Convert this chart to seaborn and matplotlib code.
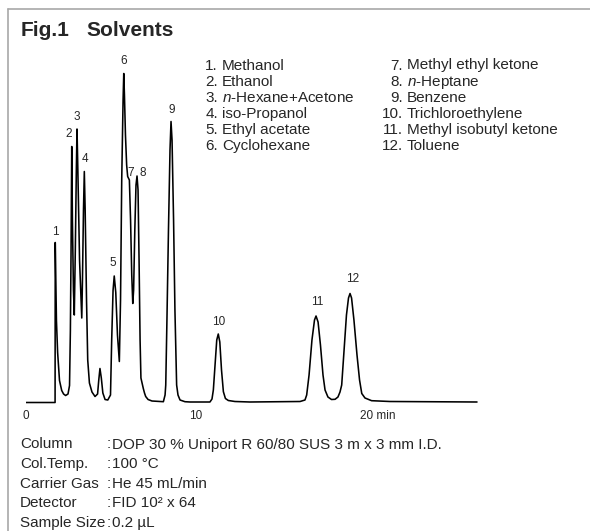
"""
Fig.1 Solvents - packed column GC chromatogram, redrawn with seaborn.
"""

import matplotlib
matplotlib.use("Agg")
import matplotlib.pyplot as plt
from matplotlib.lines import Line2D
from matplotlib.transforms import ScaledTranslation
import pandas as pd
import seaborn as sns

# detector trace: retention time (min) vs response (arb.)
time_min = [
    0.0, 1.74, 1.75, 1.82, 1.89, 2.00, 2.13, 2.24, 2.36, 2.50, 2.59, 2.64, 2.68, 2.72,
    2.76, 2.82, 2.87, 2.93, 2.99, 3.03, 3.08, 3.18, 3.31,
    3.35, 3.41, 3.46, 3.51, 3.59, 3.66, 3.76, 3.91, 4.09,
    4.24, 4.31, 4.38, 4.46, 4.55, 4.68, 4.84,
    5.00, 5.07, 5.15, 5.22, 5.31, 5.41, 5.52,
    5.59, 5.66, 5.74, 5.78, 5.82, 5.88, 5.95, 6.01, 6.11, 6.18, 6.25, 6.31,
    6.36, 6.43, 6.50, 6.56, 6.62, 6.68, 6.74, 6.79, 6.88, 6.93, 7.00, 7.07, 7.21, 7.44, 7.91, 8.11,
    8.21, 8.25, 8.32, 8.41, 8.50, 8.56, 8.62, 8.71, 8.79, 8.89, 8.97, 9.09, 9.38, 9.68,
    10.85, 10.97, 11.05, 11.15, 11.25, 11.34, 11.43, 11.53, 11.64, 11.76, 11.93, 12.32, 13.2,
    16.15, 16.44, 16.54, 16.68, 16.85, 17.00, 17.09, 17.21, 17.35, 17.50, 17.62, 17.79, 18.00,
    18.21, 18.38, 18.50,
    18.60, 18.74, 18.88, 19.00, 19.09, 19.18, 19.32, 19.50, 19.65, 19.78, 19.97, 20.36, 21.44, 26.56,
]
response = [
    0, 0, 160, 82, 50, 22, 12, 8.5, 7, 8.5, 17, 72, 152, 256,
    182, 112, 87.5, 152, 232, 273.5, 232, 142, 84.5,
    122, 192, 231, 192, 102, 42.5, 19.5, 10.5, 6,
    8.5, 22.5, 34, 24.5, 9.5, 3, 2.5,
    7.5, 62.5, 112, 126.5, 110, 67.5, 41,
    102.5, 222.5, 302.5, 329, 307.5, 267.5, 237.5, 226, 222.5, 182.5, 127.5, 99,
    112.5, 172.5, 217.5, 226.5, 212.5, 142.5, 62.5, 24.5, 17.5, 14, 9.5, 6, 3, 1.5, 1, 0.8,
    7.5, 17.5, 82.5, 172.5, 252.5, 281, 262.5, 182.5, 92.5, 17.5, 7.5, 2.5, 0.8, 0.5,
    0.5, 3.5, 12.5, 37.5, 62.5, 68.5, 60.5, 32.5, 10.8, 4, 2, 1, 0.5,
    1, 2.5, 7.5, 27.5, 62.5, 82.5, 86.5, 80.5, 57.5, 27.5, 12.5, 5.5, 3,
    3.2, 5.5, 10.5,
    17.5, 52.5, 87.5, 104.5, 109, 104.5, 82.5, 47.5, 22.5, 9, 4.5, 1.8, 1, 0.5,
]

# peak apexes (retention time, response) and their numbers
peak_ids = ["1", "2", "3", "4", "5", "6", "7", "8", "9", "10", "11", "12"]
peak_rt = [1.75, 2.72, 3.03, 3.46, 5.22, 5.78, 6.06, 6.56, 8.56, 11.34, 17.09, 19.09]
peak_top = [160, 256, 273.5, 231, 126.5, 329, 224, 226.5, 281, 68.5, 86.5, 109]

compounds_left = ["Methanol", "Ethanol", "$n$-Hexane+Acetone", "iso-Propanol",
                  "Ethyl acetate", "Cyclohexane"]
compounds_right = ["Methyl ethyl ketone", "$n$-Heptane", "Benzene", "Trichloroethylene",
                   "Methyl isobutyl ketone", "Toluene"]

cond_keys = ["Column", "Col.Temp.", "Carrier Gas", "Detector", "Sample Size"]
cond_values = ["DOP 30 % Uniport R 60/80 SUS 3 m x 3 mm I.D.", "100 °C",
               "He 45 mL/min", "FID 10² x 64", "0.2 µL"]

tick_pos = [0, 10, 20]
tick_text = ["0", "10", "20 min"]

# label offsets from apex, in pixels (dx, dy)
LABEL_OFFSETS = [(-0.2, 10.6), (-3.4, 12.7), (-0.3, 12.3), (1, 12.7), (-1, 12.7), (0.3, 13),
                 (2.2, 5.2), (5.3, 2.7), (0.7, 11.7), (0.4, 11.7), (1.7, 14.3), (2.7, 15)]

W, H = 590, 531
LIST_SIZE = 11
COND_SIZE = 11

sns.set_style("white")
plt.rcParams["font.family"] = ["Liberation Sans", "DejaVu Sans"]
plt.rcParams["mathtext.fontset"] = "custom"
plt.rcParams["mathtext.rm"] = "Liberation Sans"
plt.rcParams["mathtext.it"] = "Liberation Sans:italic"


def fx(x):
    return x / W


def fy(y):
    return 1 - y / H


fig = plt.figure(figsize=(W / 100, H / 100), dpi=100)

# axes: t=0 at x=25.5 px, 17 px/min; response 0 at y=402.5 px, 1 unit/px
ax = fig.add_axes([fx(25.5), fy(405.5), 510 / W, 348 / H])
trace = pd.DataFrame({"time": time_min, "response": response})
sns.lineplot(data=trace, x="time", y="response", ax=ax, color="black",
             linewidth=1.15, estimator=None, sort=False)
ax.set_xlim(0, 30)
ax.set_ylim(-3, 345)
for side in ax.spines.values():
    side.set_visible(False)
ax.set_yticks([])
ax.set_xticks(tick_pos)
ax.set_xticklabels(tick_text, fontsize=8.5)
ax.tick_params(axis="x", length=0, pad=3)
ax.set_xlabel("")
ax.set_ylabel("")
last = ax.get_xticklabels()[-1]
last.set_transform(last.get_transform() + ScaledTranslation(0.12, 0, fig.dpi_scale_trans))

for pid, rt, top, (dx, dy) in zip(peak_ids, peak_rt, peak_top, LABEL_OFFSETS):
    ax.annotate(pid, xy=(rt, top), xytext=(dx, dy), textcoords="offset pixels",
                ha="center", va="center", fontsize=8.5)

# title
fig.text(fx(20.5), fy(36), "Fig.1", fontsize=15, fontweight="bold", va="baseline")
fig.text(fx(86), fy(36), "Solvents", fontsize=15, fontweight="bold", va="baseline")

# compound list
for i, name in enumerate(compounds_left):
    y = 69.5 + 16.1 * i
    fig.text(fx(218), fy(y), "{}.".format(i + 1), fontsize=LIST_SIZE, ha="right", va="baseline")
    fig.text(fx(222), fy(y), name, fontsize=LIST_SIZE, ha="left", va="baseline")
for i, name in enumerate(compounds_right):
    y = 69.5 + 16.1 * i
    fig.text(fx(403), fy(y), "{}.".format(i + 7), fontsize=LIST_SIZE, ha="right", va="baseline")
    fig.text(fx(407), fy(y), name, fontsize=LIST_SIZE, ha="left", va="baseline")

# analytical conditions
for i, (key, val) in enumerate(zip(cond_keys, cond_values)):
    y = 448.5 + 19.6 * i
    fig.text(fx(20), fy(y), key, fontsize=COND_SIZE, va="baseline")
    fig.text(fx(106.5), fy(y), ":", fontsize=COND_SIZE, va="baseline")
    fig.text(fx(111.5), fy(y), val, fontsize=COND_SIZE, va="baseline")

# panel frame (left and top edges)
frame_kw = dict(color="#a8a8a8", linewidth=1.2, transform=fig.transFigure)
fig.add_artist(Line2D([fx(8), fx(8)], [fy(9), 0], **frame_kw))
fig.add_artist(Line2D([fx(8), 1], [fy(9), fy(9)], **frame_kw))

fig.savefig("out.png", dpi=100)
plt.close(fig)
